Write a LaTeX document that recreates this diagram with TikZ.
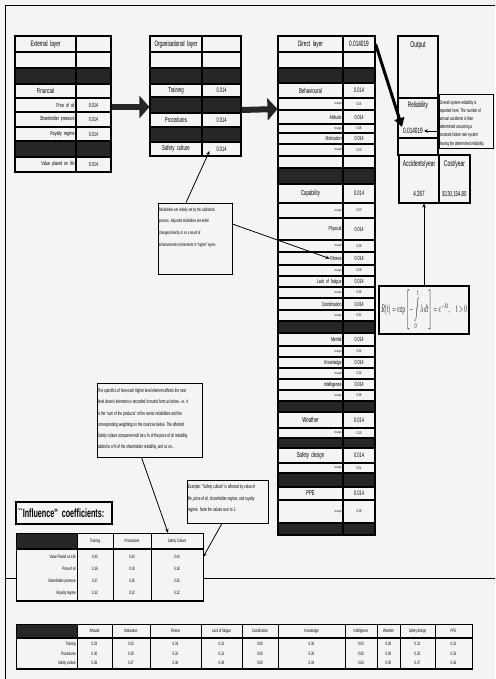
\documentclass[tikz,border=0pt]{standalone}
\usepackage[no-math]{fontspec}
\usepackage{graphicx}
\setmainfont{Liberation Sans}[FakeStretch=0.6]
\newfontfamily\titlefont{Liberation Sans}[FakeStretch=0.6]
\usetikzlibrary{arrows.meta,positioning}

\definecolor{paper}{RGB}{244,244,242}
\definecolor{bar}{RGB}{38,38,38}

% layer table: name, left x, divider x, right x, rows top/bottom/kind/label/value
\newcommand\layertable[5]{%
  \foreach \ya/\yb/\kind/\lab/\val in {#5}{%
    \pgfmathsetmacro\labw{#3-#2-3}%
    \pgfmathsetmacro\valw{#4-#3-3}%
    \pgfmathsetmacro\rowh{\yb-\ya}%
    \node[cell, lab \kind, text width=\labw pt, minimum height=\rowh pt]
      (#1-l\ya) at ({(#2+#3)/2},{(\ya+\yb)/2}) {\lab};
    \node[cell, val \kind, text width=\valw pt, minimum height=\rowh pt]
      (#1-v\ya) at ({(#3+#4)/2},{(\ya+\yb)/2}) {\val};
  }}

\begin{document}
\begin{tikzpicture}[x=1pt, y=-1pt,
  cell/.style={draw, line width=1.1pt, fill=paper, inner xsep=1.5pt, inner ysep=0pt, font=\fontsize{6.6}{7}\selectfont},
  lab h/.style={align=center, font=\fontsize{7.8}{8}\selectfont},
  lab n/.style={align=center, font=\fontsize{7.2}{8}\selectfont},
  lab r/.style={align=right, font=\fontsize{5.8}{6}\selectfont},
  lab s/.style={align=right, font=\fontsize{3}{3}\selectfont},
  lab e/.style={}, lab k/.style={fill=bar},
  val h/.style={align=center, font=\fontsize{7.8}{8}\selectfont},
  val n/.style={align=center}, val r/.style={align=center, font=\fontsize{6}{6}\selectfont},
  val s/.style={align=center, font=\fontsize{4.1}{4.5}\selectfont},
  val e/.style={}, val k/.style={fill=bar},
  box/.style={draw, line width=1.1pt, fill=paper, inner sep=0pt},
  note/.style={draw, line width=0.8pt, fill=paper, inner sep=0pt},
  notetext/.style={anchor=north west, align=left, inner sep=0pt},
  bigarrow/.style={draw=bar, line width=6pt, -{Triangle[length=10pt,width=22pt]}},
  pointer/.style={line width=0.8pt, -{Stealth[length=4pt,width=3.5pt]}},
  tab/.style={line width=0.9pt},
  num/.style={font=\fontsize{4.8}{5}\selectfont, inner sep=0pt},
  rowlab/.style={font=\fontsize{4.8}{5}\selectfont, anchor=east, inner sep=0pt}]
   % Page and frame
   \fill[paper] (0,0) rectangle (495,679);
   \useasboundingbox (0,0) rectangle (495,679);
   \draw[line width=0.8pt] (5,679) -- (5,5) -- (495,5);
   \draw[line width=0.8pt] (5,578) -- (495,578);

   % External layer
   \layertable{ext}{15}{76}{111}{36/52/h/External layer/{}, 52/68/e/{}/{}, 68/84/k/{}/{},
     84/98/n/Financial/{}, 98/112/r/Price of oil/0.014, 112/127/r/Shareholder pressure/0.014,
     127/141/r/Royalty regime/0.014, 141/157/k/{}/{}, 157/172/r/Value placed on life/0.014}

   % Organisational layer
   \layertable{org}{150}{202}{241}{36/52/h/Organisational layer/{}, 52/68/e/{}/{}, 68/84/k/{}/{},
     84/97/n/Training/0.014, 97/113/k/{}/{}, 113/127/n/Procedures/0.014,
     127/142/k/{}/{}, 142/156/n/Safety culture/0.014}

   % Direct layer
   \layertable{dir}{278}{343}{375}{36/52/h/Direct layer/0.014019, 52/68/e/{}/{}, 68/83/k/{}/{},
     83/98/n/Behavioural/0.014, 98/110/s/Strength/0.25, 110/124/r/Attitude/0.014,
     124/133/s/Strength/0.48, 133/144/r/Motivation/0.014, 144/156/s/Strength/0.23,
     156/168/e/{}/{}, 168/184/k/{}/{}, 184/203/n/Capability/0.014,
     203/218/s/Strength/0.23, 218/240/r/Physical/0.014, 240/252/s/Strength/0.38,
     252/265/r/Fitness/0.014, 265/276/s/Strength/0.29, 276/287/r/Lack of fatigue/0.014,
     287/298/s/Strength/0.38, 298/310/r/Coordination/0.014, 310/321/s/Strength/0.32,
     321/333/k/{}/{}, 333/346/r/Mental/0.014, 346/357/s/Strength/0.34,
     357/368/r/Knowledge/0.014, 368/379/s/Strength/0.34, 379/390/r/Intelligence/0.014,
     390/401/s/Strength/0.48, 401/412/k/{}/{}, 412/428/n/Weather/0.014,
     428/438/s/Strength/0.15, 438/448/k/{}/{}, 448/463/n/Safety design/0.014,
     463/473/s/Strength/0.21, 473/487/k/{}/{}, 487/500/n/PPE/0.014,
     500/523/s/Strength/0.18, 523/535/k/{}/{}}

   % Layer to layer arrows
   \draw[bigarrow] ([yshift=-2pt]ext-v98.east) -- ([yshift=-2pt]org-l97.west);
   \draw[bigarrow] ([yshift=-5pt]org-v97.east) -- ([yshift=-5pt]dir-l98.west);

   % Output
   \node[box, minimum width=40pt, minimum height=62pt] (outbox) at (418,67) {};
   \node[font=\fontsize{8.4}{9}\selectfont, below=3pt] (outtitle) at (outbox.north) {Output};
   \node[box, minimum width=40pt, minimum height=40pt] (relbox) at (418,118) {};
   \node[font=\fontsize{7.8}{8}\selectfont, below=1pt] (reltitle) at (relbox.north) {Reliability};
   \node[font=\fontsize{7.8}{8}\selectfont, inner sep=1pt] (relval) at (413,131) {0.014019};
   \node[box, minimum width=40pt, minimum height=17pt] (gapbox) at (418,146.5) {};
   \node[box, minimum width=40pt, minimum height=48pt] (accbox) at (419,179) {};
   \node[box, minimum width=31pt, minimum height=48pt] (costbox) at (454.5,179) {};
   \node[font=\fontsize{8.2}{9}\selectfont] (acctitle) at (419,164) {Accidents/year};
   \node[font=\fontsize{8.2}{9}\selectfont] (costtitle) at (454.5,164) {Cost/year};
   \node[font=\fontsize{7.6}{8}\selectfont] (accval) at (419,194) {4.267};
   \node[font=\fontsize{7.2}{8}\selectfont] (costval) at (454.5,194) {\$130,154.80};
   \draw[line width=3pt, -{Triangle[length=9pt,width=10pt]}] (dir-v36.east) -- (relval.north west);

   \node[note, minimum width=54pt, minimum height=54pt] (relnote) at (466,121) {};
   \node[notetext, font=\fontsize{5.2}{8.2}\selectfont] (relnote-text)
     at ([xshift=1pt,yshift=-6.5pt]relnote.north west)
     {Overall system reliability is\\reported here. The number of\\annual accidents is then\\determined assuming a\\constant failure rate system\\having the determined reliability.};
   \draw[pointer] (relnote.west |- relval.center) -- (relval.east);

   % Reliability formula
   \node[box, minimum width=90pt, minimum height=48pt] (formula) at (424,310)
     {\resizebox*{86pt}{40pt}{$\displaystyle R(t)=\exp\left[-\int\limits_0^t\lambda\,dt\right]=e^{-\lambda t},\quad t>0$}};
   \draw[pointer] (formula.north) -- (formula.north |- accbox.south);

   % Calibration note
   \node[note, minimum width=74pt, minimum height=71pt] (calnote) at (195,238.5) {};
   \node[notetext, font=\fontsize{4.8}{11.6}\selectfont] (calnote-text)
     at ([xshift=1pt,yshift=-5pt]calnote.north west)
     {Reliabilities are initially set by the calibration\\process. Adjusted reliabilities are either\\changed directly or as a result of\\enhancements of elements in ``higher'' layers};
   \draw[pointer] ([xshift=-9pt]calnote.north) -- ([xshift=-12pt,yshift=-2pt]org-v142.center);
   \draw[pointer] ([yshift=14.5pt]calnote.east) -- ([xshift=-14pt]dir-l252.east);

   % Matrix note
   \node[note, minimum width=105pt, minimum height=74pt] (specnote) at (149.5,420) {};
   \node[notetext, font=\fontsize{5.3}{11.2}\selectfont] (specnote-text)
     at ([xshift=1pt,yshift=-6pt]specnote.north west)
     {The specifics of how each higher level element affects the next\\level down's elements is recorded in matrix form as below. i.e. it\\is the ``sum of the products'' of the senior reliabilities and the\\corresponding weightings in the matrices below. The affected\\Safety culture component will be a \% of the price of oil reliability\\added to a \% of the shareholder reliability, and so on...};

   \node[note, minimum width=81pt, minimum height=43pt] (examplenote) at (227.5,501.5) {};
   \node[notetext, font=\fontsize{5.3}{11.5}\selectfont] (examplenote-text)
     at ([xshift=1pt,yshift=-5pt]examplenote.north west)
     {Example: ``Safety culture'' is affected by value of\\life, price of oil, shareholder regime, and royalty\\regime.\ \ Note the values sum to 1.};

   % Influence coefficients
   \node[draw, line width=1.6pt, fill=paper, text width=92pt, align=left, inner xsep=2pt,
     minimum height=22pt, font=\titlefont\bfseries\fontsize{12}{13}\selectfont] (inftitle)
     at (64,513) {``Influence'' coefficients:};
   \fill[paper] (16,533) rectangle (203,601);
   \fill[bar] (16,533) rectangle (77,549);
   \foreach \xa/\xb/\lab/\nm in {77/113/Training/tr, 113/151/Procedures/pr, 151/203/Safety Culture/sc}{
     \pgfmathsetmacro\colw{\xb-\xa}
     \node[num, minimum width=\colw pt, minimum height=16pt] (inf-\nm) at ({(\xa+\xb)/2},541) {\lab};
   }
   \foreach \y/\lab/\a/\b/\c in {557/Value Placed on Life/0.43/0.43/0.44, 569/Price of oil/0.18/0.19/0.18,
     581/Shareholder pressure/0.27/0.26/0.25, 593/Royalty regime/0.12/0.12/0.12}{
     \node[rowlab] (inf-r\y) at (76,\y) {\lab};
     \node[num, minimum width=36pt] (inf-tr-\y) at (95,\y) {\a};
     \node[num, minimum width=38pt] (inf-pr-\y) at (132,\y) {\b};
     \node[num, minimum width=52pt] (inf-sc-\y) at (177,\y) {\c};
   }
   \draw[tab] (16,533) rectangle (203,601);
   \draw[tab] (77,533) -- (77,601) (113,533) -- (113,601) (151,533) -- (151,601);
   \draw[line width=1.6pt] (16,549) -- (203,549) (16,601) -- (203,601);
   \draw[pointer] ([xshift=-8pt]specnote.south) -- ([xshift=-9pt]inf-sc.north);
   \draw[pointer] ([xshift=-5.5pt]examplenote.south) -- (inf-sc-557.east);

   % Weightings into the direct layer
   \fill[paper] (16,624) rectangle (472,669);
   \fill[bar] (16,624) rectangle (77,638);
   \foreach \xa/\xb/\lab/\ta/\tb/\tc [count=\i] in {77/112/Attitude/0.33/0.30/0.36,
     112/150/Motivation/0.33/0.30/0.37, 150/201/Fitness/0.34/0.32/0.36,
     201/242/Lack of fatigue/0.31/0.31/0.38, 242/278/Coordination/0.00/0.00/0.00,
     278/345/Knowledge/0.36/0.30/0.34, 345/377/Intelligence/0.03/0.00/0.03,
     377/400/Weather/0.00/0.00/0.00, 400/435/Safety design/0.31/0.32/0.37,
     435/472/PPE/0.31/0.33/0.36}{
     \pgfmathsetmacro\xm{(\xa+\xb)/2}
     \node[num] (wt-h\i) at (\xm,631) {\lab};
     \node[num] (wt-a\i) at (\xm,644) {\ta};
     \node[num] (wt-b\i) at (\xm,654) {\tb};
     \node[num] (wt-c\i) at (\xm,663) {\tc};
     \draw[tab] (\xa,624) -- (\xa,669);
   }
   \foreach \y/\lab in {644/Training, 654/Procedures, 663/Safety culture}
     \node[rowlab] (wt-r\y) at (76,\y) {\lab};
   \draw[tab] (16,624) rectangle (472,669);
   \draw[line width=1.6pt] (16,638) -- (472,638) (16,669) -- (472,669);
\end{tikzpicture}
\end{document}
